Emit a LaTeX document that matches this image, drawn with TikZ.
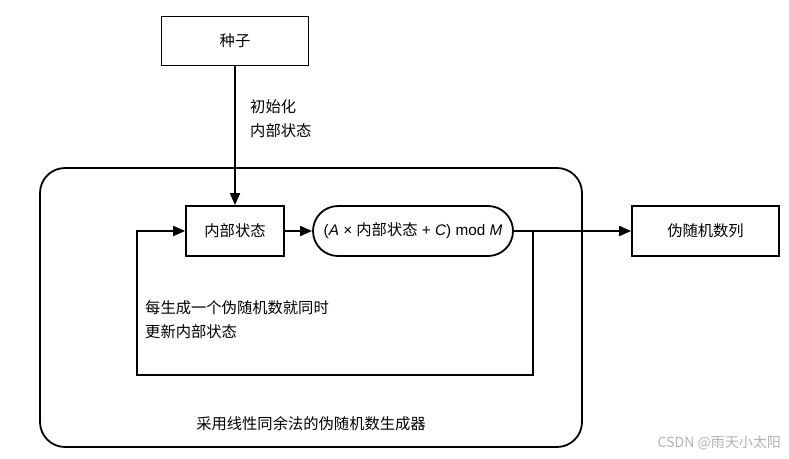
\documentclass[tikz,border=0pt]{standalone}
\usepackage{fontspec}
\setmainfont{Liberation Sans}
\newfontfamily\cjk{Noto Sans CJK SC}
\usetikzlibrary{arrows.meta,shapes.misc}
\begin{document}
\begin{tikzpicture}[x=1pt,y=-1pt,line width=1.8pt,
  >={Triangle[length=12pt,width=10pt]},
  txt/.style={font=\cjk\fontsize{15.3}{24}\selectfont},
  boxnode/.style={draw,rectangle,inner sep=0pt,txt},
  pill/.style={draw,rounded rectangle,inner sep=0pt,font=\fontsize{15.3}{18}\selectfont}]
\useasboundingbox (0,0) rectangle (789,458);
\draw[rounded corners=25pt] (40,168) rectangle (582,447);
\node[boxnode,minimum width=147pt,minimum height=49pt] (seed) at (235,41) {种子};
\node[boxnode,minimum width=98pt,minimum height=50pt] (state) at (235,231) {内部状态};
\node[pill,minimum width=200pt,minimum height=50pt] (formula) at (413,231)
  {(\textit{A} × {\cjk 内部状态} + \textit{C}) mod \textit{M}};
\node[boxnode,minimum width=147pt,minimum height=50pt] (out) at (705.5,231) {伪随机数列};
\coordinate (j) at (533,231);
\coordinate (c1) at (533,375);
\coordinate (c2) at (137,375);
\coordinate (c3) at (137,231);
\draw[->] (seed) -- (state);
\draw[->] (state) -- (formula);
\draw[->] (formula) -- (out);
\draw[->] (j) -- (c1) -- (c2) -- (c3) -- (state);
\node[txt,anchor=west,align=left] (lab1) at (246,119) {初始化\\内部状态};
\node[txt,anchor=west,align=left] (lab2) at (141,320) {每生成一个伪随机数就同时\\更新内部状态};
\node[txt] (lab3) at (311,424) {采用线性同余法的伪随机数生成器};
\node[font=\cjk\fontsize{14}{16}\selectfont,text=black!30,anchor=east] (wm) at (785,443) {CSDN @雨天小太阳};
\end{tikzpicture}
\end{document}
